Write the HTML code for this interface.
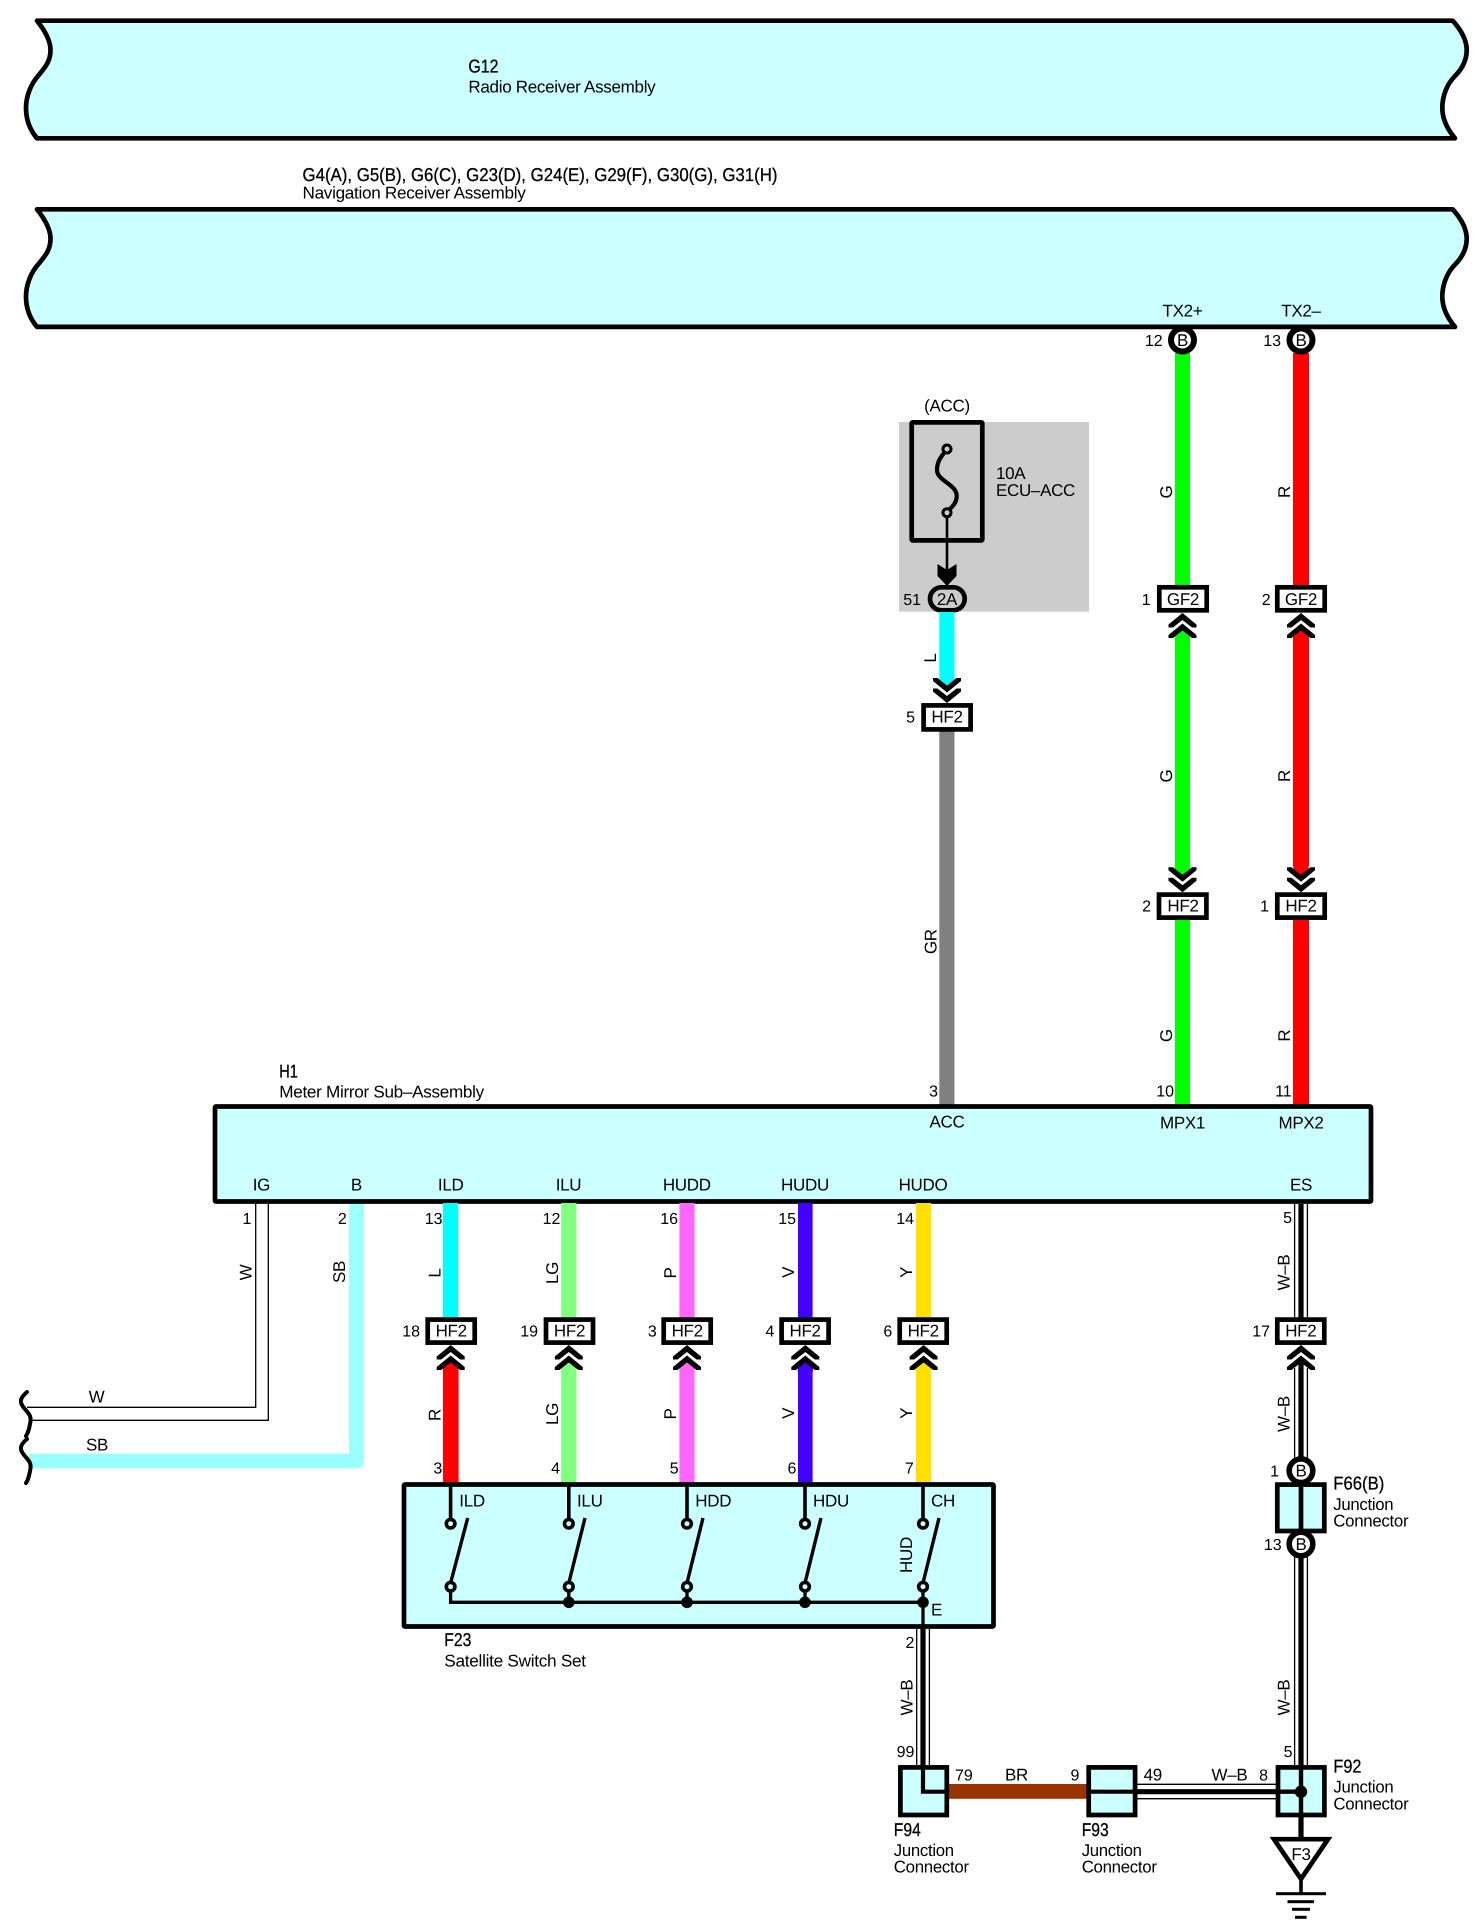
<!DOCTYPE html>
<html><head><meta charset="utf-8"><style>
html,body{margin:0;padding:0;background:#fff}
svg{display:block}
text{font-family:"Liberation Sans",sans-serif;font-size:17px;letter-spacing:-.3px;fill:#000;text-rendering:geometricPrecision}
.m{text-anchor:middle}.e{text-anchor:end;font-size:16px;letter-spacing:0}
.h{stroke:#000;stroke-width:.3;font-size:18.5px;letter-spacing:0}
.ln{fill:none;stroke:#000}
</style></head><body>
<svg width="1479" height="1926" viewBox="0 0 1479 1926" xmlns="http://www.w3.org/2000/svg">
<defs>
<g id="cu"><polygon points="0,0 14,11.5 14,14.5 9.5,14.5 0,7 -9.5,14.5 -14,14.5 -14,11.5"/><polygon transform="translate(0,10.5)" points="0,0 14,11.5 14,14.5 9.5,14.5 0,7 -9.5,14.5 -14,14.5 -14,11.5"/></g>
<polygon id="tu" points="-7.6,23 0,16.5 7.6,23 7.6,27 -7.6,27"/>
<path id="band" d="M37 20.7H1452.7C1462 31 1466.7 41 1466.7 50C1466.7 62 1461 70 1455 76C1447 84 1442.3 96 1442.3 108C1442.3 120 1448 130 1455 138.3H37C30 130 26 120 26 108C26 96 31 84 38 76C44.5 68 50.5 62 50.5 50C50.5 42 46 32 37 20.7Z" fill="#CCFFFF" stroke="#000" stroke-width="4.7" stroke-linejoin="round"/>
</defs>
<rect width="1479" height="1926" fill="#fff"/>
<use href="#band"/>
<use href="#band" y="188.6"/>
<text x="468.4" y="72.7" class="h" textLength="30" lengthAdjust="spacingAndGlyphs">G12</text>
<text x="468.4" y="92.7" textLength="187" lengthAdjust="spacingAndGlyphs">Radio Receiver Assembly</text>
<text x="302.5" y="181" class="h" textLength="475" lengthAdjust="spacingAndGlyphs">G4(A), G5(B), G6(C), G23(D), G24(E), G29(F), G30(G), G31(H)</text>
<text x="302.5" y="198.3" textLength="223" lengthAdjust="spacingAndGlyphs">Navigation Receiver Assembly</text>
<text x="1182.5" y="316.7" class="m">TX2+</text>
<text x="1301" y="316.7" class="m">TX2–</text>

<!-- fuse area -->
<rect x="899" y="422" width="190" height="189.7" fill="#CCCCCC"/>
<rect x="911.7" y="422.4" width="70.6" height="118" rx="1" fill="#CCCCCC" stroke="#000" stroke-width="4.7"/>
<path d="M947 449C940 458 937 462 937 470C937 481 956.7 484 956.7 496C956.7 503 952 507 947 512" class="ln" stroke-width="4.2"/>
<circle cx="947" cy="449" r="4" fill="#CCCCCC" stroke="#000" stroke-width="3"/>
<circle cx="947" cy="512.7" r="4" fill="#CCCCCC" stroke="#000" stroke-width="3"/>
<line x1="947" y1="517" x2="947" y2="575" stroke="#000" stroke-width="2.6"/>
<polygon points="937.5,564 947,570 956.5,564 956.5,576 947,586 937.5,576"/>
<rect x="930" y="587.3" width="34.7" height="23" rx="11.5" fill="#CCCCCC" stroke="#000" stroke-width="4.7"/>
<text x="947" y="605" class="m">2A</text>
<text x="921" y="605" class="e">51</text>
<text x="947" y="411.5" class="m">(ACC)</text>
<text x="996" y="479">10A</text>
<text x="996" y="496" textLength="79" lengthAdjust="spacingAndGlyphs">ECU–ACC</text>

<!-- vertical coloured wires top -->
<rect x="939.3" y="612" width="15.2" height="64" fill="#00FFFF"/>
<use href="#tu" transform="translate(947,702.7) scale(1,-1)" fill="#00FFFF"/>
<rect x="939.3" y="731" width="15.2" height="374" fill="#808080"/>

<rect x="1175" y="353" width="15" height="233" fill="#00FF00"/>
<rect x="1175" y="636" width="15" height="230" fill="#00FF00"/>
<use href="#tu" transform="translate(1182.5,613.5)" fill="#00FF00"/>
<use href="#tu" transform="translate(1182.5,892.3) scale(1,-1)" fill="#00FF00"/>
<rect x="1175" y="919" width="15" height="186" fill="#00FF00"/>

<rect x="1293" y="353" width="16" height="233" fill="#FF0000"/>
<rect x="1293" y="636" width="16" height="230" fill="#FF0000"/>
<use href="#tu" transform="translate(1301,613.5)" fill="#FF0000"/>
<use href="#tu" transform="translate(1301,892.3) scale(1,-1)" fill="#FF0000"/>
<rect x="1293" y="919" width="16" height="186" fill="#FF0000"/>

<!-- connector circles top -->
<circle cx="1182.5" cy="340" r="11.5" fill="#fff" stroke="#000" stroke-width="6"/>
<circle cx="1301" cy="340" r="11.5" fill="#fff" stroke="#000" stroke-width="6"/>
<text x="1182.5" y="346" class="m">B</text><text x="1301" y="346" class="m">B</text>
<text x="1162.7" y="346" class="e">12</text><text x="1281" y="346" class="e">13</text>

<!-- GF2 boxes -->
<rect x="1159.3" y="587.3" width="47.4" height="23" fill="#fff" stroke="#000" stroke-width="4.7"/>
<rect x="1277.3" y="587.3" width="47.4" height="23" fill="#fff" stroke="#000" stroke-width="4.7"/>
<text x="1183" y="605" class="m">GF2</text><text x="1301" y="605" class="m">GF2</text>
<text x="1150.7" y="605" class="e">1</text><text x="1270.7" y="605" class="e">2</text>
<use href="#cu" transform="translate(1182.5,613)"/><use href="#cu" transform="translate(1301,613)"/>

<!-- HF2 top row -->
<use href="#cu" transform="translate(947,703) scale(1,-1)"/>
<rect x="923.6" y="705.4" width="47" height="24" fill="#fff" stroke="#000" stroke-width="4.7"/>
<text x="947" y="722.7" class="m">HF2</text><text x="915" y="722.7" class="e">5</text>

<use href="#cu" transform="translate(1182.5,892.3) scale(1,-1)"/><use href="#cu" transform="translate(1301,892.3) scale(1,-1)"/>
<rect x="1159" y="894.6" width="47.4" height="23" fill="#fff" stroke="#000" stroke-width="4.7"/>
<rect x="1277.3" y="894.6" width="47.4" height="23" fill="#fff" stroke="#000" stroke-width="4.7"/>
<text x="1183" y="911.7" class="m">HF2</text><text x="1301" y="911.7" class="m">HF2</text>
<text x="1151" y="911.7" class="e">2</text><text x="1269" y="911.7" class="e">1</text>

<!-- rotated wire labels top -->
<text transform="translate(935.8,658) rotate(-90)" class="m">L</text>
<text transform="translate(936.3,941.7) rotate(-90)" class="m">GR</text>
<text transform="translate(1172,492) rotate(-90)" class="m">G</text>
<text transform="translate(1172,776) rotate(-90)" class="m">G</text>
<text transform="translate(1172,1035.7) rotate(-90)" class="m">G</text>
<text transform="translate(1290,492) rotate(-90)" class="m">R</text>
<text transform="translate(1290,776) rotate(-90)" class="m">R</text>
<text transform="translate(1290,1035.7) rotate(-90)" class="m">R</text>
<text x="938" y="1096.7" class="e">3</text>
<text x="1174" y="1096.7" class="e">10</text>
<text x="1291.7" y="1096.7" class="e">11</text>

<!-- H1 -->
<rect x="215" y="1106.5" width="1156" height="95" rx="1" fill="#CCFFFF" stroke="#000" stroke-width="4.7"/>
<text x="279.3" y="1077.3" class="h" textLength="18.6" lengthAdjust="spacingAndGlyphs">H1</text>
<text x="279.3" y="1097.3" textLength="204.6" lengthAdjust="spacingAndGlyphs">Meter Mirror Sub–Assembly</text>
<text x="947" y="1127.7" class="m">ACC</text><text x="1182.5" y="1128.3" class="m">MPX1</text><text x="1301" y="1128.3" class="m">MPX2</text>
<text x="261.4" y="1190.7" class="m">IG</text><text x="356.4" y="1190.7" class="m">B</text><text x="450.7" y="1190.7" class="m">ILD</text><text x="568.5" y="1190.7" class="m">ILU</text><text x="686.8" y="1190.7" class="m">HUDD</text><text x="805" y="1190.7" class="m">HUDU</text><text x="923" y="1190.7" class="m">HUDO</text><text x="1301" y="1190.7" class="m">ES</text>

<!-- W / SB wires -->
<path d="M255.7 1204V1407.3H27" class="ln" stroke-width="1.3"/>
<path d="M268.3 1204V1420.3H31" class="ln" stroke-width="1.3"/>
<path d="M29 1461H356.5V1204" fill="none" stroke="#99FFFF" stroke-width="14.8" stroke-linejoin="round"/>
<path d="M27 1392C20 1398 19 1402 24 1408C29 1414 32 1416 30 1424C29 1430 28 1433 26 1436" class="ln" stroke-width="4" stroke-linecap="round"/>
<path d="M27 1439C20 1445 19 1449 24 1455C29 1461 32 1463 30 1471C29 1477 28 1480 26 1483" class="ln" stroke-width="4" stroke-linecap="round"/>
<text x="96.5" y="1402.7" class="m">W</text><text x="97" y="1450.7" class="m">SB</text>
<text transform="translate(251.3,1272.5) rotate(-90)" class="m">W</text>
<text transform="translate(344.8,1272) rotate(-90)" class="m">SB</text>
<text x="251.4" y="1224" class="e">1</text><text x="346.8" y="1224" class="e">2</text>

<!-- coloured wires between H1 and F23 -->
<g>
<rect x="443" y="1203" width="15.2" height="115" fill="#00FFFF"/>
<rect x="443" y="1368" width="15.6" height="115" fill="#FF0000"/>
<use href="#tu" transform="translate(450.7,1345)" fill="#FF0000"/>
<rect x="561.2" y="1203" width="15.2" height="115" fill="#80FF80"/>
<rect x="561.2" y="1368" width="15.2" height="115" fill="#80FF80"/>
<use href="#tu" transform="translate(568.8,1345)" fill="#80FF80"/>
<rect x="679.4" y="1203" width="15.2" height="115" fill="#FF66FF"/>
<rect x="679.4" y="1368" width="15.2" height="115" fill="#FF66FF"/>
<use href="#tu" transform="translate(687,1345)" fill="#FF66FF"/>
<rect x="798" y="1203" width="14.6" height="115" fill="#4400FF"/>
<rect x="798" y="1368" width="14.6" height="115" fill="#4400FF"/>
<use href="#tu" transform="translate(805.3,1345)" fill="#4400FF"/>
<rect x="916" y="1203" width="15.2" height="115" fill="#FFE000"/>
<rect x="916" y="1368" width="15.2" height="115" fill="#FFE000"/>
<use href="#tu" transform="translate(923.6,1345)" fill="#FFE000"/>
</g>
<g>
<rect x="427.7" y="1319.6" width="47" height="23" fill="#fff" stroke="#000" stroke-width="4.7"/>
<rect x="546" y="1319.6" width="47" height="23" fill="#fff" stroke="#000" stroke-width="4.7"/>
<rect x="663.7" y="1319.6" width="47" height="23" fill="#fff" stroke="#000" stroke-width="4.7"/>
<rect x="781.6" y="1319.6" width="47" height="23" fill="#fff" stroke="#000" stroke-width="4.7"/>
<rect x="899.7" y="1319.6" width="47" height="23" fill="#fff" stroke="#000" stroke-width="4.7"/>
</g>
<text x="451.2" y="1336.7" class="m">HF2</text><text x="569.5" y="1336.7" class="m">HF2</text><text x="687.2" y="1336.7" class="m">HF2</text><text x="805.1" y="1336.7" class="m">HF2</text><text x="923.2" y="1336.7" class="m">HF2</text>
<text x="420" y="1336.7" class="e">18</text><text x="538" y="1336.7" class="e">19</text><text x="656.8" y="1336.7" class="e">3</text><text x="774.3" y="1336.7" class="e">4</text><text x="892.3" y="1336.7" class="e">6</text><text x="1270" y="1336.7" class="e">17</text>
<use href="#cu" transform="translate(450.7,1345)"/><use href="#cu" transform="translate(568.8,1345)"/><use href="#cu" transform="translate(687,1345)"/><use href="#cu" transform="translate(805.3,1345)"/><use href="#cu" transform="translate(923.6,1345)"/>
<text x="442.5" y="1224" class="e">13</text><text x="560.4" y="1224" class="e">12</text><text x="678" y="1224" class="e">16</text><text x="796" y="1224" class="e">15</text><text x="914" y="1224" class="e">14</text>
<text transform="translate(440.3,1273) rotate(-90)" class="m">L</text>
<text transform="translate(558.1,1273) rotate(-90)" class="m">LG</text>
<text transform="translate(675.8,1273) rotate(-90)" class="m">P</text>
<text transform="translate(793.8,1272.3) rotate(-90)" class="m">V</text>
<text transform="translate(911.8,1272.3) rotate(-90)" class="m">Y</text>
<text transform="translate(440.6,1415) rotate(-90)" class="m">R</text>
<text transform="translate(558.1,1414) rotate(-90)" class="m">LG</text>
<text transform="translate(675.8,1414) rotate(-90)" class="m">P</text>
<text transform="translate(793.8,1413.3) rotate(-90)" class="m">V</text>
<text transform="translate(911.8,1413.3) rotate(-90)" class="m">Y</text>
<text x="442.3" y="1473.3" class="e">3</text><text x="560" y="1473.3" class="e">4</text><text x="678.7" y="1473.3" class="e">5</text><text x="796.4" y="1473.3" class="e">6</text><text x="913.8" y="1473.3" class="e">7</text>

<!-- F23 -->
<rect x="404" y="1484.5" width="589.5" height="142" rx="1" fill="#CCFFFF" stroke="#000" stroke-width="4.7"/>
<path d="M450.6 1484V1519M568.8 1484V1519M687 1484V1519M805 1484V1519M923 1484V1519" class="ln" stroke-width="3.6"/>
<path d="M450.6 1583L467.7 1518M568.8 1583L585 1518M687 1583L703 1518M805 1583L821 1518M923 1583L939 1518" class="ln" stroke-width="3.4"/>
<path d="M450.6 1590V1602.3H923M568.8 1590V1602.3M687 1590V1602.3M805 1590V1602.3M923 1590V1630" class="ln" stroke-width="3.3"/>
<g fill="#CCFFFF" stroke="#000" stroke-width="3.6">
<circle cx="450.6" cy="1523.7" r="4.3"/><circle cx="568.8" cy="1523.7" r="4.3"/><circle cx="687" cy="1523.7" r="4.3"/><circle cx="805" cy="1523.7" r="4.3"/><circle cx="923" cy="1523.7" r="4.3"/>
<circle cx="450.6" cy="1586.7" r="4.3"/><circle cx="568.8" cy="1586.7" r="4.3"/><circle cx="687" cy="1586.7" r="4.3"/><circle cx="805" cy="1586.7" r="4.3"/><circle cx="923" cy="1586.7" r="4.3"/>
</g>
<circle cx="568.8" cy="1602.3" r="5.8"/><circle cx="687" cy="1602.3" r="5.8"/><circle cx="805" cy="1602.3" r="5.8"/><circle cx="923" cy="1602.3" r="5.8"/>
<text x="459.3" y="1506.7">ILD</text><text x="577" y="1506.7">ILU</text><text x="695.3" y="1506.7">HDD</text><text x="813" y="1506.7">HDU</text><text x="931" y="1506.7">CH</text><text x="931" y="1615.7">E</text>
<text transform="translate(912,1555) rotate(-90)" class="m">HUD</text>
<text x="444.3" y="1646" class="h" textLength="27" lengthAdjust="spacingAndGlyphs">F23</text>
<text x="444.3" y="1666.7" textLength="141.5" lengthAdjust="spacingAndGlyphs">Satellite Switch Set</text>

<!-- W-B right column -->
<path d="M1294.6 1204V1320M1307.4 1204V1320M1294.6 1368V1458M1307.4 1368V1458M1294.6 1557V1768M1307.4 1557V1768" class="ln" stroke-width="1.3"/>
<path d="M1301 1204V1320M1301 1358V1458M1301 1557V1837" class="ln" stroke-width="5.2"/>
<rect x="1277.3" y="1319.6" width="47" height="23" fill="#fff" stroke="#000" stroke-width="4.7"/>
<text x="1300.8" y="1336.7" class="m">HF2</text>
<use href="#cu" transform="translate(1301,1345)"/>
<rect x="1277.3" y="1484.6" width="47" height="46.4" fill="#CCFFFF" stroke="#000" stroke-width="4.7"/>
<line x1="1301" y1="1484" x2="1301" y2="1532" stroke="#000" stroke-width="4.7"/>
<circle cx="1301" cy="1470.7" r="11.8" fill="#fff" stroke="#000" stroke-width="5.6"/>
<circle cx="1301" cy="1544" r="11.8" fill="#fff" stroke="#000" stroke-width="5.6"/>
<text x="1301" y="1476.7" class="m">B</text><text x="1301" y="1550" class="m">B</text>
<text x="1279" y="1476.7" class="e">1</text><text x="1281.7" y="1550" class="e">13</text>
<text x="1292" y="1223" class="e">5</text>
<text transform="translate(1289.5,1272.5) rotate(-90)" class="m">W–B</text>
<text transform="translate(1289.5,1414) rotate(-90)" class="m">W–B</text>
<text transform="translate(1289.5,1697.5) rotate(-90)" class="m">W–B</text>
<text x="1333.3" y="1489.3" class="h" textLength="51" lengthAdjust="spacingAndGlyphs">F66(B)</text>
<text x="1333.3" y="1510" textLength="60" lengthAdjust="spacingAndGlyphs">Junction</text>
<text x="1333.3" y="1526.7" textLength="75" lengthAdjust="spacingAndGlyphs">Connector</text>

<!-- W-B left column -->
<path d="M916.7 1628V1768M929.4 1628V1768" class="ln" stroke-width="1.3"/>
<line x1="923" y1="1628" x2="923" y2="1766" stroke="#000" stroke-width="5.2"/>
<text x="914.4" y="1648" class="e">2</text>
<text transform="translate(912.4,1697.5) rotate(-90)" class="m">W–B</text>
<text x="914.4" y="1757" class="e">99</text>

<!-- horizontal wires -->
<rect x="946" y="1784" width="143" height="14.8" fill="#993300"/>
<path d="M1136 1784.3H1278M1136 1798.7H1278" class="ln" stroke-width="1.3"/>
<path d="M1136 1791.7H1278" class="ln" stroke-width="5.2"/>

<!-- junction boxes -->
<rect x="900.4" y="1767.4" width="46.4" height="47.6" fill="#CCFFFF" stroke="#000" stroke-width="4.7"/>
<path d="M923 1766V1791.7H948" class="ln" stroke-width="4.2"/>
<rect x="1088.7" y="1767.4" width="46.4" height="47.6" fill="#CCFFFF" stroke="#000" stroke-width="4.7"/>
<line x1="1087" y1="1791.7" x2="1137" y2="1791.7" stroke="#000" stroke-width="4.2"/>
<rect x="1278" y="1767.4" width="46.4" height="47.6" fill="#CCFFFF" stroke="#000" stroke-width="4.7"/>
<path d="M1301 1766V1838M1276 1791.7H1301" class="ln" stroke-width="4.4"/>
<ellipse cx="1301" cy="1791.7" rx="6.2" ry="6.2"/>
<text x="972.8" y="1780.7" class="e">79</text><text x="1016.5" y="1780.7" class="m">BR</text><text x="1079.4" y="1780.7" class="e">9</text><text x="1143.6" y="1780.7">49</text><text x="1229.5" y="1780.7" class="m">W–B</text><text x="1268" y="1780.7" class="e">8</text><text x="1292.5" y="1757" class="e">5</text>
<text x="893.8" y="1836" class="h" textLength="27" lengthAdjust="spacingAndGlyphs">F94</text><text x="893.8" y="1856" textLength="60" lengthAdjust="spacingAndGlyphs">Junction</text><text x="893.8" y="1872.7" textLength="75" lengthAdjust="spacingAndGlyphs">Connector</text>
<text x="1081.7" y="1836" class="h" textLength="27" lengthAdjust="spacingAndGlyphs">F93</text><text x="1081.7" y="1856" textLength="60" lengthAdjust="spacingAndGlyphs">Junction</text><text x="1081.7" y="1872.7" textLength="75" lengthAdjust="spacingAndGlyphs">Connector</text>
<text x="1333.4" y="1772.7" class="h" textLength="28" lengthAdjust="spacingAndGlyphs">F92</text><text x="1333.4" y="1792.7" textLength="60" lengthAdjust="spacingAndGlyphs">Junction</text><text x="1333.4" y="1809.3" textLength="75" lengthAdjust="spacingAndGlyphs">Connector</text>

<!-- ground -->
<polygon points="1274,1839.2 1328,1839.2 1301,1879" fill="#fff" stroke="#000" stroke-width="4.7"/>
<text x="1301" y="1860" class="m">F3</text>
<line x1="1301" y1="1878" x2="1301" y2="1894" stroke="#000" stroke-width="3.6"/>
<rect x="1276" y="1892.2" width="50" height="3"/>
<rect x="1287.5" y="1900.2" width="26.5" height="3"/>
<rect x="1292" y="1907.8" width="18" height="3"/>
<rect x="1295" y="1915.8" width="11.6" height="3"/>
</svg>
</body></html>
